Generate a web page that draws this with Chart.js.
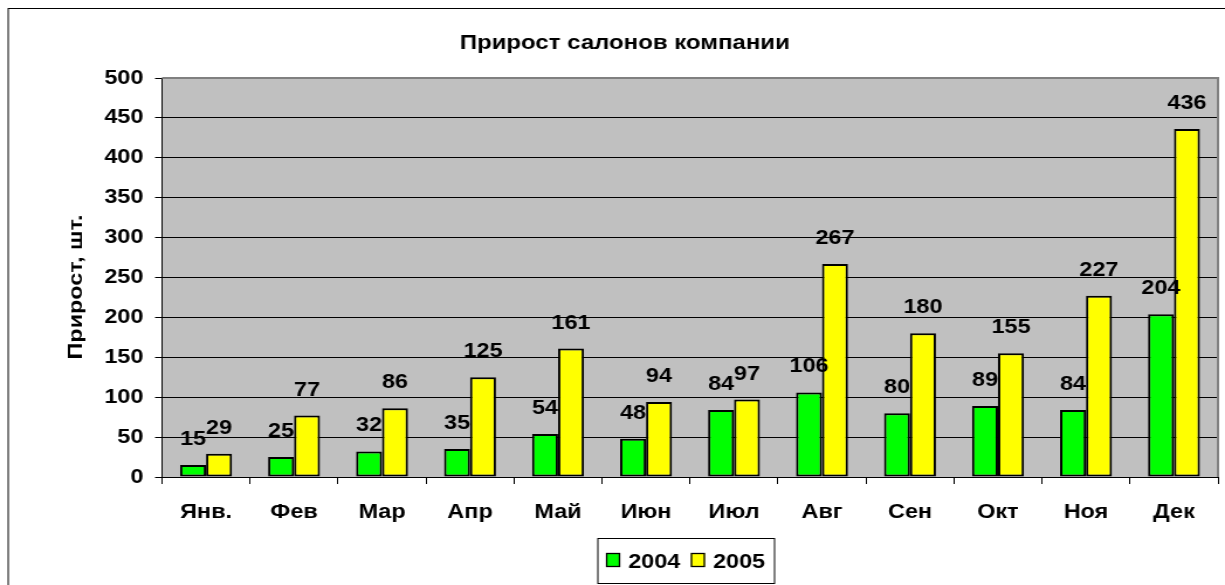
<!DOCTYPE html>
<html>
<head>
<meta charset="utf-8">
<script src="https://cdn.jsdelivr.net/npm/chart.js@4/dist/chart.umd.min.js"></script>
<style>
html,body{margin:0;padding:0;background:#fff;overflow:hidden;}
#c{display:block;transform:scaleX(1.17);transform-origin:0 0;}
</style>
</head>
<body>
<canvas id="c" width="1047" height="585"></canvas>
<script>
const months = ['Янв.','Фев','Мар','Апр','Май','Июн','Июл','Авг','Сен','Окт','Ноя','Дек'];
const series2004 = [15,25,32,35,54,48,84,106,80,89,84,204];
const series2005 = [29,77,86,125,161,94,97,267,180,155,227,436];
const seriesNames = ['2004','2005'];
const chartTitle = 'Прирост салонов компании';
const yTitle = 'Прирост, шт.';

const FONT = 'Arial, "Liberation Sans", sans-serif';
const SX = 1.17;

const decor = {
  id: 'decor',
  beforeDraw(chart) {
    const {ctx, chartArea: a} = chart;
    ctx.save();
    ctx.fillStyle = '#fff';
    ctx.fillRect(0, 0, chart.width, chart.height);
    ctx.strokeStyle = '#000';
    ctx.lineWidth = 1;
    ctx.strokeRect(7, 8.5, 1200, 700);
    ctx.fillStyle = '#C0C0C0';
    ctx.fillRect(a.left, a.top, a.right - a.left, a.bottom - a.top);
    ctx.fillStyle = '#000';
    ctx.font = 'bold 20.5px ' + FONT;
    ctx.textAlign = 'center';
    ctx.textBaseline = 'middle';
    ctx.fillText(chartTitle, 534, 43);
    ctx.font = 'bold 20px ' + FONT;
    ctx.translate(64, 287);
    ctx.rotate(-Math.PI / 2);
    ctx.scale(SX, 1 / SX);
    ctx.fillText(yTitle, 0, 1);
    ctx.restore();
  },
  afterDatasetsDraw(chart) {
    const {ctx, chartArea: a} = chart;
    ctx.save();
    ctx.strokeStyle = '#808080';
    ctx.lineWidth = 2;
    ctx.beginPath();
    ctx.moveTo(a.left, a.top);
    ctx.lineTo(a.right, a.top);
    ctx.lineTo(a.right, a.bottom);
    ctx.stroke();
    ctx.fillStyle = '#000';
    ctx.font = 'bold 20px ' + FONT;
    ctx.textAlign = 'center';
    ctx.textBaseline = 'alphabetic';
    chart.data.datasets.forEach((ds, di) => {
      chart.getDatasetMeta(di).data.forEach((bar, i) => {
        ctx.fillText(String(ds.data[i]), bar.x, bar.y - 20);
      });
    });
    // legend
    const lx = 511, ly = 538, lw = 151, lh = 45;
    ctx.fillStyle = '#fff';
    ctx.fillRect(lx, ly, lw, lh);
    ctx.strokeStyle = '#000';
    ctx.lineWidth = 1;
    ctx.strokeRect(lx, ly + 0.5, lw, lh);
    const itemX = [518, 590.5];
    chart.data.datasets.forEach((ds, di) => {
      const x = itemX[di];
      ctx.fillStyle = ds.backgroundColor;
      ctx.fillRect(x, 553, 12, 14);
      ctx.strokeStyle = '#000';
      ctx.lineWidth = 1.3;
      ctx.strokeRect(x + 0.5, 553.5, 11, 13);
      ctx.fillStyle = '#000';
      ctx.textAlign = 'left';
      ctx.textBaseline = 'alphabetic';
      ctx.fillText(ds.label, x + 19, 568);
    });
    ctx.restore();
  }
};

new Chart(document.getElementById('c'), {
  type: 'bar',
  data: {
    labels: months,
    datasets: [
      {label: seriesNames[0], data: series2004, backgroundColor: '#00FF00', borderColor: '#000', borderWidth: 2, borderSkipped: false},
      {label: seriesNames[1], data: series2005, backgroundColor: '#FFFF00', borderColor: '#000', borderWidth: 2, borderSkipped: false}
    ]
  },
  options: {
    responsive: false,
    animation: false,
    devicePixelRatio: 1,
    layout: {padding: {top: 78, right: 6, bottom: 0, left: 0}},
    plugins: {legend: {display: false}, title: {display: false}, tooltip: {enabled: false}},
    datasets: {bar: {categoryPercentage: 0.59, barPercentage: 1}},
    scales: {
      x: {
        grid: {offset: true, drawOnChartArea: false, drawTicks: true, tickLength: 7, tickColor: '#000'},
        border: {color: '#000', width: 1},
        ticks: {color: '#000', font: {family: FONT, size: 20, weight: 'bold'}, padding: 16, maxRotation: 0, autoSkip: false},
        afterFit(s) { s.height = 108; }
      },
      y: {
        min: 0, max: 500,
        grid: {color: (c) => c.tick && c.tick.value === 500 ? '#808080' : '#000', tickColor: '#000', tickLength: 6, lineWidth: 1},
        border: {color: '#000', width: 1},
        ticks: {stepSize: 50, color: '#000', font: {family: FONT, size: 20, weight: 'bold'}, padding: 10},
        afterFit(s) { s.width = 138.5; }
      }
    }
  },
  plugins: [decor]
});
</script>
</body>
</html>
